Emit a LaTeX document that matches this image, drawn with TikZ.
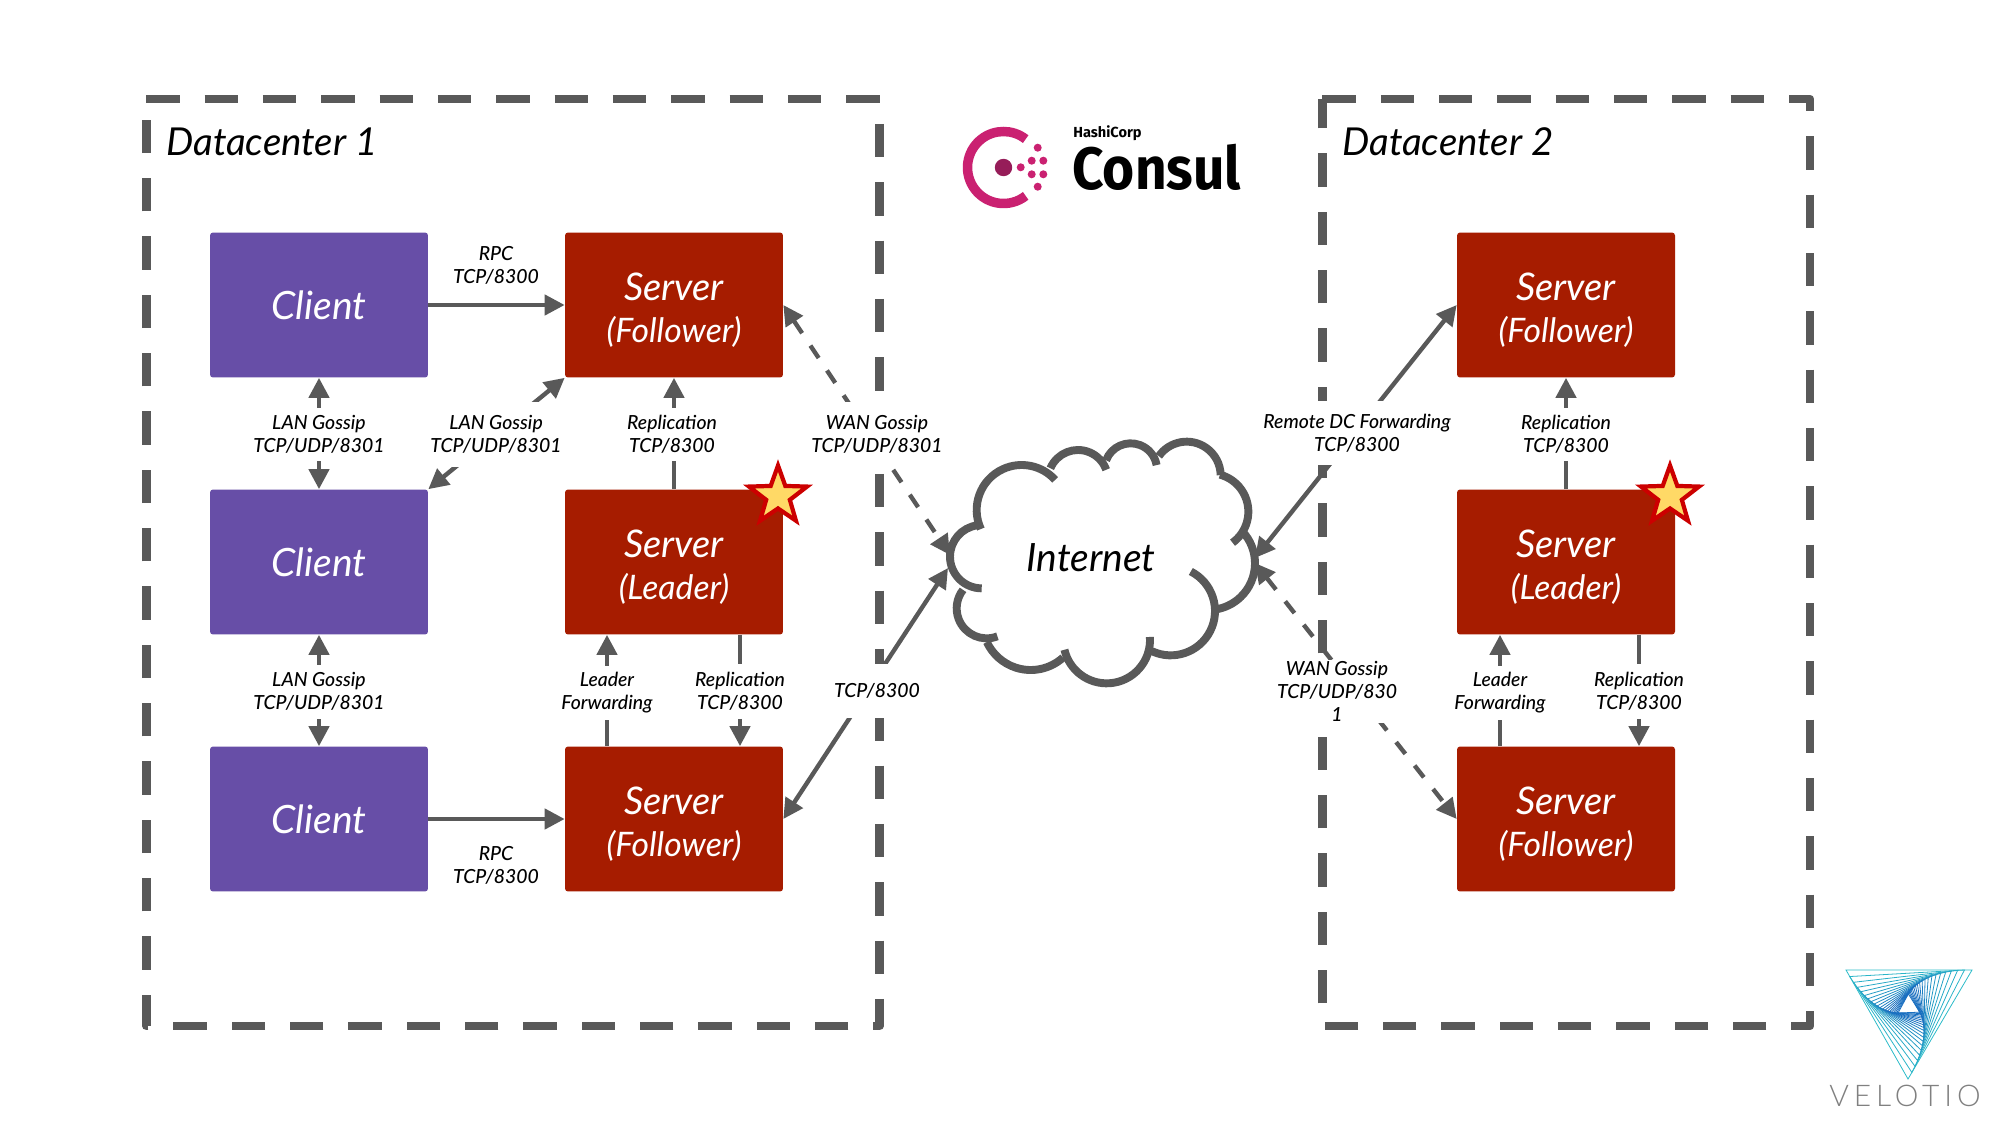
\documentclass[tikz,border=0pt]{standalone}
\usepackage{fontspec}
\setmainfont{Lato}
\newfontfamily\logofont{Fira Sans}
\newfontfamily\logonarrow[FakeStretch=0.92]{Fira Sans}
\newfontfamily\lightfont{Lato Light}
\newfontfamily\medfont{Lato Medium}
\usetikzlibrary{arrows.meta,calc,shapes.geometric}
\definecolor{linegray}{HTML}{595959}
\definecolor{clientc}{HTML}{674EA7}
\definecolor{serverc}{HTML}{A61C00}
\definecolor{consulp}{HTML}{CA2171}
\definecolor{consuld}{HTML}{961D59}
\definecolor{vela}{HTML}{2BBBC9}
\definecolor{velb}{HTML}{1A6FC0}
\definecolor{starfill}{HTML}{FFD966}
\definecolor{starline}{HTML}{CC0000}
% centre x, centre y, radius, from, to (px, clockwise on screen)
\newcommand{\cloudlobe}[5]{\draw[cloudline] ({900+(#1)/3},{400+(#2)/3}) ++(#4:{(#3)/3}) arc[start angle=#4,end angle=#5,radius={(#3)/3}];}
\newcommand{\srv}[1]{{\fontsize{21.7}{24}\selectfont Server}\\{\fontsize{19.2}{24}\selectfont #1}}
\tikzset{
  x=0.02cm,y=-0.02cm,
  frame/.style={draw=linegray,line width=4.8pt,dash pattern=on 18.97pt off 14.23pt,line join=round},
  box/.style={rounded corners=1.7pt,minimum width=4.36cm,minimum height=2.9cm,inner sep=0pt,align=center,text=white,font=\itshape\fontsize{22.2}{24}\selectfont},
  clientbox/.style={box,fill=clientc},
  serverbox/.style={box,fill=serverc},
  srvtext/.style={inner sep=0pt,align=center,text=white,font=\itshape\fontsize{21.7}{24}\selectfont},
  conn/.style={draw=linegray,line width=2.5pt,-{Triangle[length=11.4pt,width=11.4pt]}},
  conntwo/.style={conn,{Triangle[length=11.4pt,width=11.4pt]}-{Triangle[length=11.4pt,width=11.4pt]}},
  dashconn/.style={conntwo,dash pattern=on 8.5pt off 8.5pt},
  lab/.style={fill=white,inner sep=1pt,minimum height=1.08cm,align=center,font=\medfont\itshape\fontsize{11.05}{13.1}\selectfont},
  tall/.style={minimum height=1.3cm},
  dclabel/.style={anchor=west,inner sep=0pt,font=\itshape\fontsize{21.9}{26}\selectfont,text=black},
  cloudline/.style={draw=linegray,line width=4.5pt},
  leaderstar/.style={star,star points=5,star point ratio=2.45,draw=starline,line width=2.4pt,fill=starfill,minimum size=1.22cm,inner sep=0pt,miter limit=4},
  logodot/.style={fill=consulp},
}
\begin{document}
\begin{tikzpicture}
\useasboundingbox (0,0) rectangle (2000,1125);
\fill[white] (0,0) rectangle (2000,1125);
% frames
\draw[frame] (146.3,99) -- (879.6,99) -- (879.6,1026) -- (146.3,1026) -- cycle;
\draw[frame] (1322.4,99) -- (1810,99) -- (1810,1026) -- (1322.4,1026) -- cycle;
\node[dclabel] (dc1) at (166,142) {Datacenter 1};
\node[dclabel] (dc2) at (1342,142) {Datacenter 2};
% boxes
\node[clientbox] (c1) at (319,305) {Client};
\node[clientbox] (c2) at (319,562) {Client};
\node[clientbox] (c3) at (319,819) {Client};
\node[serverbox] (f1) at (674,305) {};
\node[serverbox] (l1) at (674,562) {};
\node[serverbox] (f3) at (674,819) {};
\node[serverbox] (rf1) at (1566,305) {};
\node[serverbox] (rl1) at (1566,562) {};
\node[serverbox] (rf3) at (1566,819) {};
\node[srvtext] (tf1) at ($(f1)+(0,5)$) {\srv{(Follower)}};
\node[srvtext] (tl1) at ($(l1)+(0,5)$) {\srv{(Leader)}};
\node[srvtext] (tf3) at ($(f3)+(0,5)$) {\srv{(Follower)}};
\node[srvtext] (trf1) at ($(rf1)+(0,5)$) {\srv{(Follower)}};
\node[srvtext] (trl1) at ($(rl1)+(0,5)$) {\srv{(Leader)}};
\node[srvtext] (trf3) at ($(rf3)+(0,5)$) {\srv{(Follower)}};
\node[leaderstar] (s1) at (778,496) {};
\node[leaderstar] (s2) at (1670,496) {};
% cloud
\node[inner sep=0pt,font=\itshape\fontsize{22.2}{28}\selectfont] (internet) at (1091,558) {Internet};
\coordinate (cl1) at (950,555);
\coordinate (cl2) at (948,568);
\coordinate (cr1) at (1255,558);
\coordinate (cr2) at (1255,563);
\cloudlobe{365}{330}{135}{155}{318}
\cloudlobe{534}{240}{90}{203}{340}
\cloudlobe{692}{209}{79}{201}{350}
\cloudlobe{860}{227}{102}{215}{359}
\cloudlobe{930}{335}{115}{285}{414}
\cloudlobe{925}{490}{140}{-44}{82}
\cloudlobe{812}{633}{133}{-63}{115}
\cloudlobe{620}{720}{130}{-4}{167}
\cloudlobe{392}{665}{145}{48}{155}
\cloudlobe{260}{625}{90}{69}{218}
\cloudlobe{245}{470}{95}{90}{262}
% Velotio logo
\coordinate (va) at (1846,970);
\coordinate (vb) at (1908,1079);
\coordinate (vc) at (1972,970);
\foreach \i in {0,...,19}{
  \pgfmathsetmacro{\mixv}{min(100,\i*8)}
  \draw[line width=0.45pt,color=velb!\mixv!vela] (va) -- (vb) -- (vc) -- cycle;
  \coordinate (na) at ($(va)!0.06!(vb)$);
  \coordinate (nb) at ($(vb)!0.06!(vc)$);
  \coordinate (nc) at ($(vc)!0.06!(va)$);
  \coordinate (va) at (na);
  \coordinate (vb) at (nb);
  \coordinate (vc) at (nc);
}
\node[inner sep=0pt,text=gray,font=\lightfont\fontsize{17}{20}\selectfont] (velotio) at (1905,1096) {\addfontfeatures{LetterSpace=16.5}VELOTIO};
% Consul logo
\draw[consulp,line width=5.4pt] (1003.5,167.5) ++(52:36) arc[start angle=52,end angle=308,radius=36];
\fill[consuld] (1003.5,167.5) circle[radius=8.7];
\foreach \dx/\dy in {1020.7/167.3,1031.7/160.7,1043.3/160.7,1037.7/147.7,1031.7/174.3,1043.3/174.3,1037.7/186.7}
  {\fill[logodot] (\dx,\dy) circle[radius=4];}
\node[anchor=west,inner sep=0pt,font=\logofont\bfseries\fontsize{8.3}{10}\selectfont] (hc) at (1073,133) {HashiCorp};
\node[anchor=west,inner sep=0pt,font=\logonarrow\bfseries\fontsize{34}{40}\selectfont] (consul) at (1072,167) {Consul};
% connectors
\draw[conn] (c1) -- (f1);
\draw[conn] (c3) -- (f3);
\draw[conntwo] (c1) -- (c2);
\draw[conntwo] (c2) -- (c3);
\draw[conntwo] (c2.north east) -- (f1.south west);
\draw[conn] (l1) -- (f1);
\draw[dashconn] (f1.east) -- (cl1);
\draw[conntwo] (f3.east) -- (cl2);
\draw[conn] (rl1) -- (rf1);
\draw[conntwo] (rf1.west) -- (cr1);
\draw[dashconn] (cr2) -- (rf3.west);
% labels
\node[lab] (a1) at (496,265) {RPC\\TCP/8300};
\node[lab] (a2) at (496,865) {RPC\\TCP/8300};
\node[lab] (a3) at (319,434.5) {LAN Gossip\\TCP/UDP/8301};
\node[lab] (a4) at (319,691.5) {LAN Gossip\\TCP/UDP/8301};
\node[lab,tall] (a5) at (496,434.5) {LAN Gossip\\TCP/UDP/8301};
\node[lab] (a6) at (672,434.5) {Replication\\TCP/8300};
\node[lab,tall] (a7) at (877,434.5) {WAN Gossip\\TCP/UDP/8301};
\node[lab] (a8) at (877,691) {TCP/8300};
\node[lab,tall] (a9) at (1357,433) {Remote DC Forwarding\\TCP/8300};
\node[lab] (a10) at (1566,434.5) {Replication\\TCP/8300};
\node[lab] (a11) at (1337,691.5) {WAN Gossip\\TCP/UDP/830\\1};
\node[lab] (lf1) at (607,693) {Leader\\Forwarding};
\node[lab] (rp1) at (740,691.5) {Replication\\TCP/8300};
\node[lab] (lf2) at (1500,693) {Leader\\Forwarding};
\node[lab] (rp2) at (1639,691.5) {Replication\\TCP/8300};
\draw[conn,-] (f3.north -| lf1) -- (lf1.south);
\draw[conn] (lf1.north) -- (l1.south -| lf1);
\draw[conn,-] (l1.south -| rp1) -- (rp1.north);
\draw[conn] (rp1.south) -- (f3.north -| rp1);
\draw[conn,-] (rf3.north -| lf2) -- (lf2.south);
\draw[conn] (lf2.north) -- (rl1.south -| lf2);
\draw[conn,-] (rl1.south -| rp2) -- (rp2.north);
\draw[conn] (rp2.south) -- (rf3.north -| rp2);
\end{tikzpicture}
\end{document}
